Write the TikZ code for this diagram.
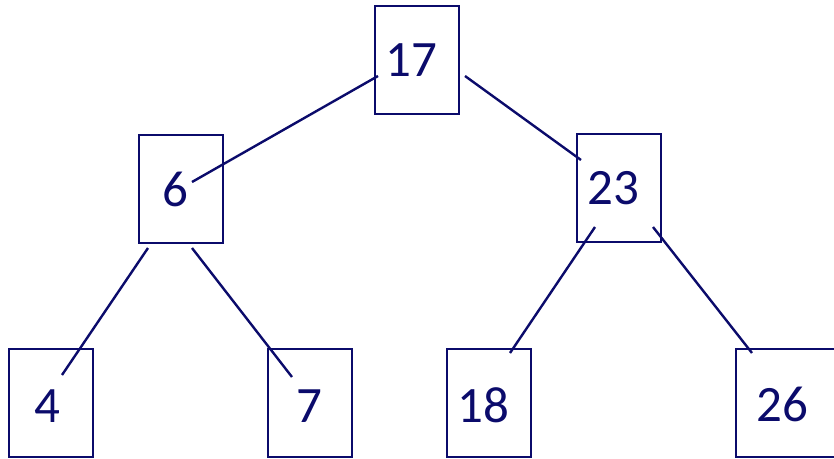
\documentclass[tikz,border=0pt]{standalone}
\usepackage{fontspec}
\setmainfont{Carlito}
\definecolor{navy}{HTML}{0B0B6B}
\begin{document}
\begin{tikzpicture}[x=1pt,y=-1pt,
  box/.style={draw=navy,line width=2pt,rectangle,minimum width=84pt,minimum height=108pt,inner sep=0pt},
  num/.style={text=navy,font=\fontsize{51}{51}\selectfont,inner sep=0pt},
  edge/.style={draw=navy,line width=2.4pt}]
\useasboundingbox (0,0) rectangle (834,458);
% boxes
\node[box] (b17) at (417,60) {};
\node[box] (b6) at (180.5,189) {};
\node[box] (b23) at (619,188) {};
\node[box] (b4) at (51,403) {};
\node[box] (b7) at (310,403) {};
\node[box] (b18) at (489,403) {};
\node[box,minimum width=106pt] (b26) at (789,403) {};
% numbers
\node[num] (t17) at (411.5,60) {17};
\node[num] (t6) at (175,189) {6};
\node[num] (t23) at (613,188) {23};
\node[num] (t4) at (47,406) {4};
\node[num] (t7) at (309,406) {7};
\node[num] (t18) at (483,405) {18};
\node[num] (t26) at (782,404) {26};
% endpoints
\coordinate (a1) at (378,76);
\coordinate (a2) at (192,182);
\coordinate (c1) at (465,76);
\coordinate (c2) at (581,160);
\coordinate (d1) at (148,248);
\coordinate (d2) at (62,375);
\coordinate (e1) at (192,248);
\coordinate (e2) at (292,377);
\coordinate (f1) at (595,227);
\coordinate (f2) at (510,353);
\coordinate (g1) at (653,227);
\coordinate (g2) at (752,353);
\draw[edge] (a1) -- (a2);
\draw[edge] (c1) -- (c2);
\draw[edge] (d1) -- (d2);
\draw[edge] (e1) -- (e2);
\draw[edge] (f1) -- (f2);
\draw[edge] (g1) -- (g2);
\end{tikzpicture}
\end{document}
